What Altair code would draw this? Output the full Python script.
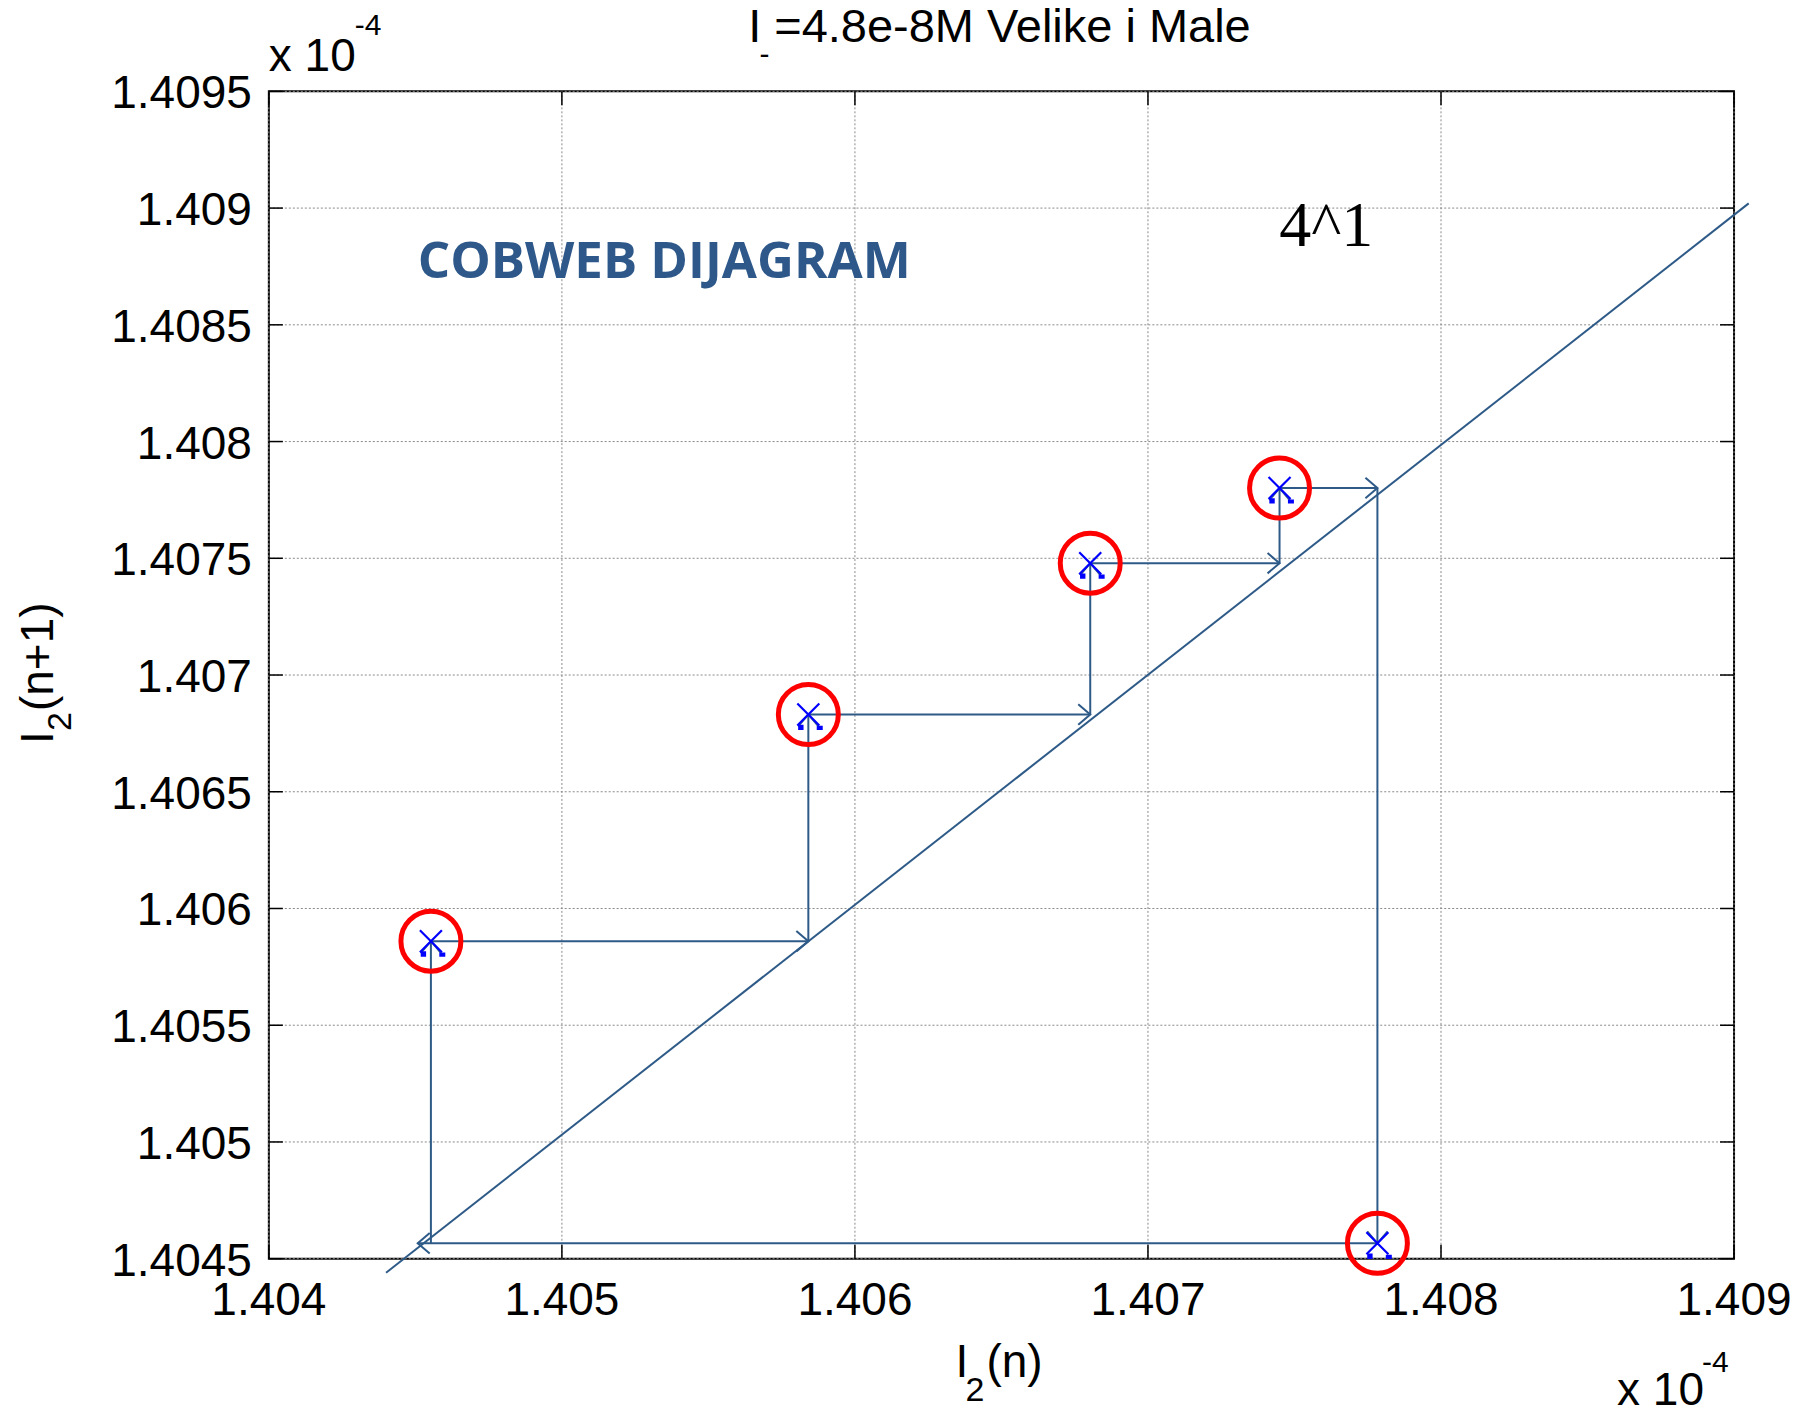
import altair as alt
import pandas as pd

# ---------------- data (axis units: x 10^-4) ----------------
x_ticks = [1.404, 1.405, 1.406, 1.407, 1.408, 1.409]
x_labels = ["1.404", "1.405", "1.406", "1.407", "1.408", "1.409"]
y_ticks = [1.4045, 1.405, 1.4055, 1.406, 1.4065, 1.407, 1.4075, 1.408, 1.4085, 1.409, 1.4095]
y_labels = ["1.4045", "1.405", "1.4055", "1.406", "1.4065", "1.407", "1.4075",
            "1.408", "1.4085", "1.409", "1.4095"]

# identity line I(n+1) = I(n)
diag_x = [1.4044, 1.40905]
diag_y = [1.40444, 1.40902]

# cobweb points (I(n), I(n+1))
pt_x = [1.404553, 1.405841, 1.406803, 1.407449, 1.407783]
pt_y = [1.405860, 1.406831, 1.407479, 1.407801, 1.404566]
# x where each horizontal step from a point ends (on the diagonal)
h_end = [1.405841, 1.406803, 1.407449, 1.407783, 1.404508]

# ---------------- layout ----------------
W, H = 1466, 1168
OX, OY = 269, 91          # page position of the plot origin
LINE = "#2E5A88"
GRID = "#8a8a8a"

sx = alt.Scale(domain=[1.404, 1.409], nice=False, zero=False)
sy = alt.Scale(domain=[1.4045, 1.4095], nice=False, zero=False)


def X(f):
    return alt.X(f, scale=sx, axis=None)


def Y(f):
    return alt.Y(f, scale=sy, axis=None)


segs = []
heads = []
n = len(pt_x)
for i in range(n):
    segs.append({"x": pt_x[i], "y": pt_y[i], "x2": h_end[i], "y2": pt_y[i]})
    heads.append({"x": h_end[i], "y": pt_y[i], "ang": 0 if h_end[i] > pt_x[i] else 180})
for j in range(n):
    yprev = pt_y[j - 1]
    segs.append({"x": pt_x[j], "y": yprev, "x2": pt_x[j], "y2": pt_y[j]})
    heads.append({"x": pt_x[j], "y": pt_y[j], "ang": 270 if pt_y[j] > yprev else 90})
segs = pd.DataFrame(segs)
heads = pd.DataFrame(heads)
pts = pd.DataFrame({"x": pt_x, "y": pt_y})
diag = pd.DataFrame({"x": [diag_x[0]], "y": [diag_y[0]], "x2": [diag_x[1]], "y2": [diag_y[1]]})
xt = pd.DataFrame({"v": x_ticks, "lab": x_labels})
yt = pd.DataFrame({"v": y_ticks, "lab": y_labels})

# grid (dotted)
grid_x = alt.Chart(xt).mark_rule(color=GRID, strokeDash=[2, 2], strokeWidth=1).encode(
    x=X("v:Q"), y=alt.value(0), y2=alt.value(H))
grid_y = alt.Chart(yt).mark_rule(color=GRID, strokeDash=[2, 2], strokeWidth=1).encode(
    y=Y("v:Q"), x=alt.value(0), x2=alt.value(W))

# inward ticks on all four sides
TL = 14
tick_layers = [
    alt.Chart(yt).mark_rule(color="black", strokeWidth=1.5).encode(
        y=Y("v:Q"), x=alt.value(0), x2=alt.value(TL)),
    alt.Chart(yt).mark_rule(color="black", strokeWidth=1.5).encode(
        y=Y("v:Q"), x=alt.value(W - TL), x2=alt.value(W)),
    alt.Chart(xt).mark_rule(color="black", strokeWidth=1.5).encode(
        x=X("v:Q"), y=alt.value(H - TL), y2=alt.value(H)),
    alt.Chart(xt).mark_rule(color="black", strokeWidth=1.5).encode(
        x=X("v:Q"), y=alt.value(0), y2=alt.value(TL)),
]

# tick labels
ylab = alt.Chart(yt).mark_text(
    align="right", baseline="alphabetic", dy=17, font="Liberation Sans", fontSize=46, color="black"
).encode(y=Y("v:Q"), x=alt.value(-17), text="lab:N")
xlab = alt.Chart(xt).mark_text(
    align="center", baseline="alphabetic", font="Liberation Sans", fontSize=46, color="black"
).encode(x=X("v:Q"), y=alt.value(H + 56), text="lab:N")

diag_layer = alt.Chart(diag).mark_rule(color=LINE, strokeWidth=2).encode(
    x=X("x:Q"), y=Y("y:Q"), x2="x2:Q", y2="y2:Q")

seg_layer = alt.Chart(segs).mark_rule(color=LINE, strokeWidth=2).encode(
    x=X("x:Q"), y=Y("y:Q"), x2="x2:Q", y2="y2:Q")

head_layer = alt.Chart(heads).mark_point(
    shape="M-1,-0.85L0,0L-1,0.85", size=576, filled=False, color=LINE, strokeWidth=2, opacity=1
).encode(x=X("x:Q"), y=Y("y:Q"), angle=alt.Angle("ang:Q", scale=None))

blip_layer = alt.Chart(pts).mark_point(
    shape="M-0.85,0.85L-0.4,0.85L-0.4,1.3L-0.85,1.3ZM0.7,0.95L1.2,0.95L1.2,1.3L0.7,1.3Z",
    size=576, filled=True, color="#0000FF", opacity=1, strokeWidth=0
).encode(x=X("x:Q"), y=Y("y:Q"))

cross_layer = alt.Chart(pts).mark_point(
    shape="M-1,-1L1,1M-1,1L1,-1", size=484, filled=False, color="#0000FF", strokeWidth=2.2, opacity=1
).encode(x=X("x:Q"), y=Y("y:Q"))

circle_layer = alt.Chart(pts).mark_point(
    shape="circle", size=3600, filled=False, color="#FF0000", strokeWidth=5, opacity=1
).encode(x=X("x:Q"), y=Y("y:Q"))


def txt(s, px, py, size, font="Liberation Sans", color="black", angle=0, weight="normal", align="left"):
    kw = dict(align=align, baseline="alphabetic", font=font, fontSize=size, color=color, fontWeight=weight)
    if angle:
        kw["angle"] = angle
    return alt.Chart(pd.DataFrame({"t": [s]})).mark_text(**kw).encode(
        text="t:N", x=alt.value(px - OX), y=alt.value(py - OY))


texts = [
    txt("I =4.8e-8M Velike i Male", 1000, 42, 47, align="center"),
    txt("-", 760, 64, 30),
    txt("x 10", 269, 71, 46),
    txt("-4", 355, 35, 30),
    txt("x 10", 1618, 1405, 46),
    txt("-4", 1703, 1372, 30),
    txt("I", 956, 1377, 46),
    txt("2", 966, 1401, 34),
    txt("(n)", 987, 1377, 46),
    txt("I", 53, 744, 46, angle=270),
    txt("2", 71, 731, 34, angle=270),
    txt("(n+1)", 53, 711, 46, angle=270),
    txt("COBWEB DIJAGRAM", 418, 278, 51, font="Open Sans", color="#2D5889", weight="bold"),
    txt("4^1", 1280, 246, 64, font="Liberation Serif"),
]

chart = alt.layer(
    grid_x, grid_y, *tick_layers, ylab, xlab,
    diag_layer, seg_layer, head_layer, blip_layer, cross_layer, circle_layer, *texts
).properties(
    width=W, height=H,
    autosize=alt.AutoSizeParams(type="none"),
    padding={"left": OX - 8, "top": OY - 8, "right": 70, "bottom": 156},
    background="white",
).configure_view(stroke="black", strokeWidth=2)

chart.save("out.html", embed_options={"renderer": "svg", "actions": False})
